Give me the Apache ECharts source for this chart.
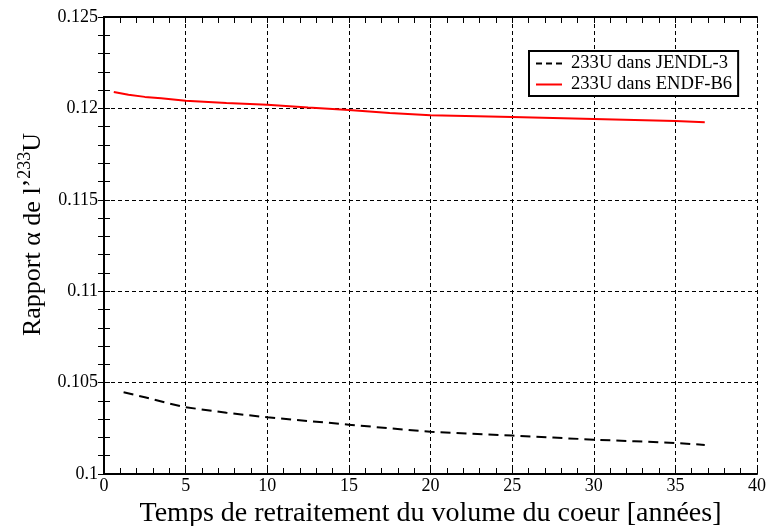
<!DOCTYPE html>
<html>
<head>
<meta charset="utf-8">
<script src="https://cdn.jsdelivr.net/npm/echarts@6/dist/echarts.min.js"></script>
<style>
  html, body { margin: 0; padding: 0; background: #fff; }
  #chart { width: 767px; height: 526px; }
</style>
</head>
<body>
<div id="chart"></div>
<script>
// valeurs
const jendlX = [1.2, 2.5, 4, 5, 7.5, 10, 12.5, 15, 17.5, 20, 22.5, 25, 27.5, 30, 32.5, 35, 36.8]
const jendlY = [0.10447, 0.1042, 0.10385, 0.10365, 0.10335, 0.1031, 0.1029, 0.1027, 0.1025, 0.10231, 0.1022, 0.1021, 0.10199, 0.10188, 0.10179, 0.1017, 0.10159]
const endfX = [0.6, 1.5, 2.5, 3.5, 5, 7.5, 10, 12.5, 15, 17.5, 20, 25, 30, 35, 36.8]
const endfY = [0.1209, 0.12075, 0.12063, 0.12055, 0.12042, 0.1203, 0.1202, 0.12005, 0.11991, 0.11975, 0.11962, 0.11953, 0.11942, 0.11931, 0.11924]
const seriesNames = ["233U dans JENDL-3", "233U dans ENDF-B6"]

const font = "Liberation Serif"
const myChart = echarts.init(document.getElementById("chart"))

const zip = (xs, ys) => xs.map((x, i) => [x, ys[i]])

// icones de legende : tirets / trait plein
const dashIcon = "path://M0,0h6v2h-6z M10,0h6v2h-6z M20,0h6v2h-6z"
const solidIcon = "path://M0,0h26v2h-26z"

const gridLine = { show: true, lineStyle: { color: "#000", width: 1, type: [4, 3] } }

// axes principaux (cadre, etiquettes, grille)
const mainX = {
  type: "value", min: 0, max: 40, interval: 5,
  axisLine: { lineStyle: { color: "#000", width: 2 } },
  axisTick: { show: false },
  splitLine: { show: false }
}
const mainY = {
  type: "value", min: 0.1, max: 0.125, interval: 0.005,
  axisLine: { lineStyle: { color: "#000", width: 2 } },
  axisTick: { show: false },
  splitLine: { show: false }
}
// axes secondaires : seulement les graduations vers l'interieur
const tickX = pos => ({
  type: "value", min: 0, max: 40, interval: 1, position: pos,
  axisLine: { show: false }, axisLabel: { show: false }, splitLine: { show: false },
  axisTick: { show: true, inside: true, length: 6, lineStyle: { color: "#000", width: 1 } }
})
const tickY = pos => ({
  type: "value", min: 0.1, max: 0.125, interval: 0.001, position: pos,
  axisLine: { show: false }, axisLabel: { show: false }, splitLine: { show: false },
  axisTick: { show: true, inside: true, length: 6, lineStyle: { color: "#000", width: 1 } }
})

myChart.setOption({
  animation: false,
  grid: { left: 104, top: 17, right: 10, bottom: 52, containLabel: false, outerBoundsMode: "none" },
  legend: {
    orient: "vertical",
    left: 529, top: 51,
    backgroundColor: "#fff",
    borderColor: "#000", borderWidth: 2, borderRadius: 0,
    padding: [3, 6, 2, 7],
    itemGap: 2, itemWidth: 26, itemHeight: 2,
    textStyle: { fontFamily: font, fontSize: 18.6, lineHeight: 18, color: "#000", padding: [0, 0, 0, 4] },
    data: [
      { name: seriesNames[0], icon: dashIcon, itemStyle: { color: "#000", borderWidth: 0 } },
      { name: seriesNames[1], icon: solidIcon, itemStyle: { color: "#ff0000", borderWidth: 0 } }
    ]
  },
  xAxis: [
    Object.assign({}, mainX, {
      position: "bottom",
      name: "Temps de retraitement du volume du coeur [années]",
      nameLocation: "middle", nameGap: 24,
      nameTextStyle: { fontFamily: font, fontSize: 28, color: "#000" },
      axisLabel: { fontFamily: font, fontSize: 18, color: "#000", margin: 3 },
      splitLine: gridLine
    }),
    Object.assign({}, mainX, { position: "top", axisLabel: { show: false } }),
    tickX("bottom"),
    tickX("top")
  ],
  yAxis: [
    Object.assign({}, mainY, {
      position: "left",
      name: "{a|Rapport α de l’}{s|233}{a|U}",
      nameLocation: "middle", nameGap: 50, nameRotate: 90,
      nameTextStyle: {
        padding: [0, 0, 0, 22],
        rich: {
          a: { fontFamily: font, fontSize: 26, color: "#000", verticalAlign: "bottom", lineHeight: 30 },
          s: { fontFamily: font, fontSize: 18, color: "#000", verticalAlign: "top", lineHeight: 30, padding: [0, 0, 12, 0] }
        }
      },
      axisLabel: { fontFamily: font, fontSize: 18, color: "#000", margin: 6 },
      splitLine: gridLine
    }),
    Object.assign({}, mainY, { position: "right", axisLabel: { show: false } }),
    tickY("left"),
    tickY("right")
  ],
  series: [
    {
      name: seriesNames[0], type: "line", showSymbol: false, symbol: "none",
      data: zip(jendlX, jendlY),
      lineStyle: { color: "#000", width: 2, type: [10, 6] },
      itemStyle: { color: "#000" }
    },
    {
      name: seriesNames[1], type: "line", showSymbol: false, symbol: "none",
      data: zip(endfX, endfY),
      lineStyle: { color: "#ff0000", width: 2 },
      itemStyle: { color: "#ff0000" }
    }
  ]
})
</script>
</body>
</html>
